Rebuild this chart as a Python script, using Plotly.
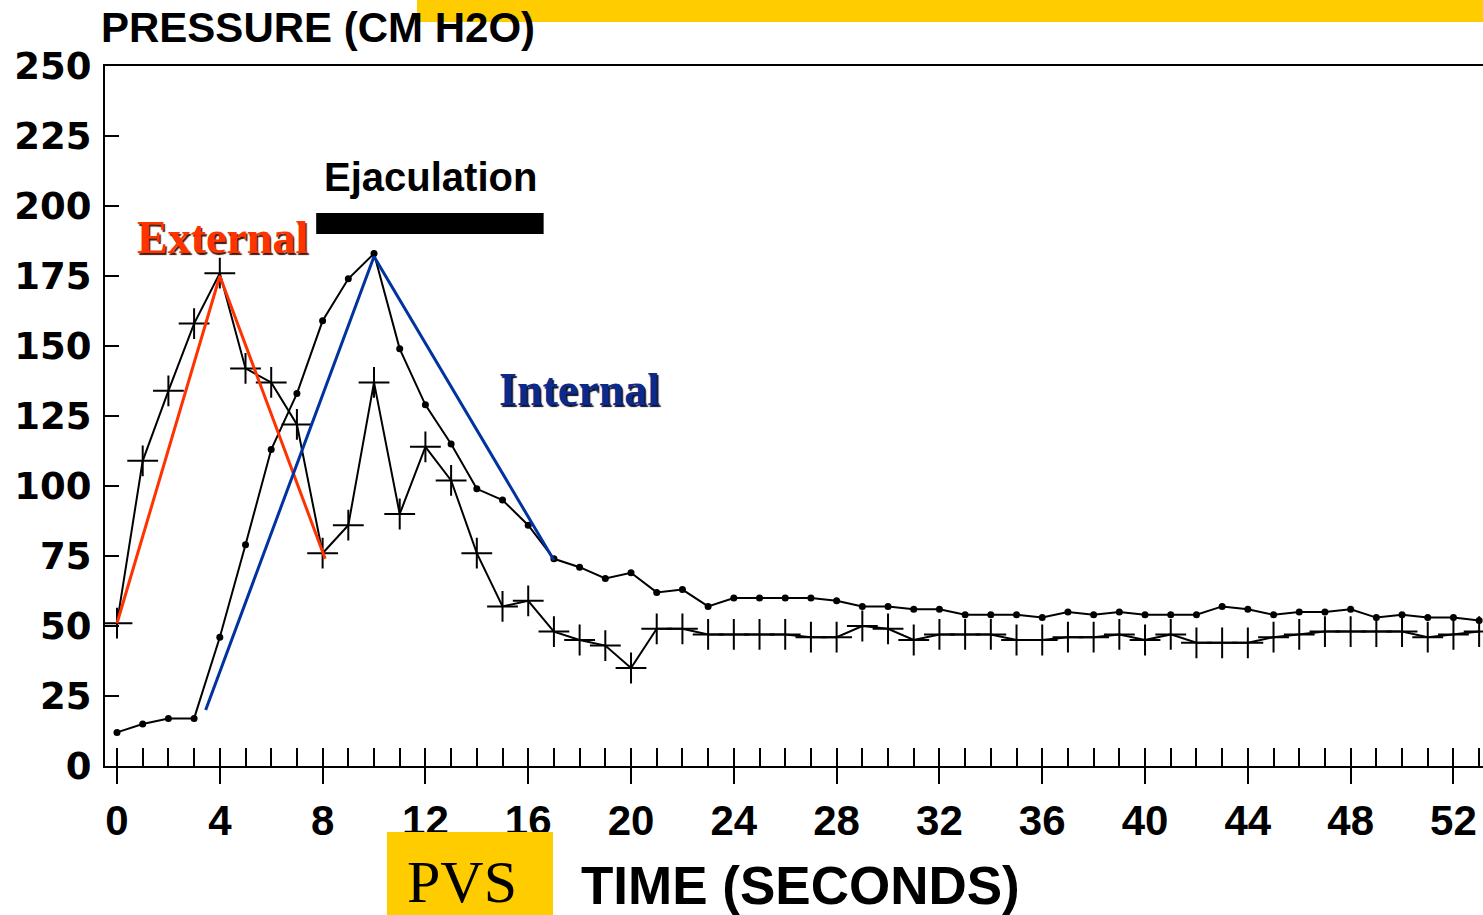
import plotly.graph_objects as go

# ---------------- data ----------------
time_s = list(range(0, 54))

# external sphincter pressure (plus markers)
external_p = [51, 109, 134, 158, 176, 142, 137, 122, 76, 86,
              137, 90, 114, 102, 76, 57, 59, 48, 45, 43,
              35, 49, 49, 47, 47, 47, 47, 46, 46, 50,
              49, 45, 47, 47, 47, 45, 45, 46, 46, 47,
              45, 47, 44, 44, 44, 46, 47, 48, 48, 48,
              48, 46, 47, 48]

# internal sphincter pressure (dot markers)
internal_p = [12, 15, 17, 17, 46, 79, 113, 133, 159, 174,
              183, 149, 129, 115, 99, 95, 86, 74, 71, 67,
              69, 62, 63, 57, 60, 60, 60, 60, 59, 57,
              57, 56, 56, 54, 54, 54, 53, 55, 54, 55,
              54, 54, 54, 57, 56, 54, 55, 55, 56, 53,
              54, 53, 53, 52]

# hand-drawn trend lines
external_trend_t = [0, 4, 8.1]
external_trend_p = [51, 175, 74]
internal_trend_t = [3.45, 10, 17]
internal_trend_p = [20, 182, 73.5]

# ejaculation period
ejac_start, ejac_end = 7.75, 16.6
ejac_low, ejac_high = 190, 197.5

x_tickvals = list(range(0, 53, 4))
y_tickvals = list(range(0, 251, 25))

fig = go.Figure()

fig.add_trace(go.Scatter(
    x=time_s, y=external_p, mode="lines+markers",
    line=dict(color="black", width=2),
    marker=dict(symbol="cross-thin", size=22, line=dict(color="black", width=2)),
    showlegend=False, hoverinfo="skip"))

fig.add_trace(go.Scatter(
    x=time_s, y=internal_p, mode="lines+markers",
    line=dict(color="black", width=2),
    marker=dict(symbol="circle", size=7, color="black"),
    showlegend=False, hoverinfo="skip"))

fig.add_trace(go.Scatter(
    x=external_trend_t, y=external_trend_p, mode="lines",
    line=dict(color="#FF3300", width=3),
    showlegend=False, hoverinfo="skip"))

fig.add_trace(go.Scatter(
    x=internal_trend_t, y=internal_trend_p, mode="lines",
    line=dict(color="#0033A0", width=3),
    showlegend=False, hoverinfo="skip"))

# ejaculation bar
fig.add_shape(type="rect", xref="x", yref="y",
              x0=ejac_start, x1=ejac_end, y0=ejac_low, y1=ejac_high,
              fillcolor="black", line=dict(width=0))

# yellow boxes
fig.add_shape(type="rect", xref="paper", yref="paper",
              x0=0.2046, x1=0.3251, y0=-0.215, y1=-0.0943,
              fillcolor="#FFCC00", line=dict(width=0), layer="above")
fig.add_shape(type="rect", xref="paper", yref="paper",
              x0=0.2264, x1=1.0, y0=1.0629, y1=1.1,
              fillcolor="#FFCC00", line=dict(width=0), layer="above")

ann = []
ann.append(dict(text="PRESSURE (CM H2O)", xref="paper", yref="paper",
                x=-0.004, y=1.0557, xanchor="left", yanchor="middle", showarrow=False,
                font=dict(family="Liberation Sans", size=42, color="black", weight="bold")))
ann.append(dict(text="TIME (SECONDS)", xref="paper", yref="paper",
                x=0.5044, y=-0.17, xanchor="center", yanchor="middle", showarrow=False,
                font=dict(family="Liberation Sans", size=53, color="black", weight="bold")))
ann.append(dict(text="PVS", xref="paper", yref="paper",
                x=0.2591, y=-0.165, xanchor="center", yanchor="middle", showarrow=False,
                font=dict(family="Liberation Serif", size=60, color="black")))
ann.append(dict(text="Ejaculation", xref="x", yref="y",
                x=12.18, y=210.4, xanchor="center", yanchor="middle", showarrow=False,
                font=dict(family="Liberation Sans", size=40, color="black", weight="bold")))
ann.append(dict(text="External", xref="x", yref="y",
                x=4.1, y=188.6, xanchor="center", yanchor="middle", showarrow=False,
                font=dict(family="Liberation Serif", size=46, color="#FF3300", weight="bold",
                          shadow="1.5px 1.5px 1px #3a1a10")))
ann.append(dict(text="Internal", xref="x", yref="y",
                x=17.98, y=134.6, xanchor="center", yanchor="middle", showarrow=False,
                font=dict(family="Liberation Serif", size=46, color="#0A2A8C", weight="bold",
                          shadow="1.5px 1.5px 1px #101030")))

fig.update_layout(
    width=1483, height=915,
    margin=dict(l=105, r=0, t=66, b=149),
    paper_bgcolor="white", plot_bgcolor="white",
    annotations=ann,
    xaxis=dict(range=[-0.467, 53.15], tickvals=x_tickvals,
               ticks="outside", ticklen=16, tickwidth=2, tickcolor="black",
               showline=True, linecolor="black", linewidth=2, mirror=True,
               showgrid=False, zeroline=False,
               ticklabelstandoff=1,
               tickfont=dict(family="Liberation Sans", size=42, color="black", weight="bold"),
               minor=dict(dtick=1, tick0=0, ticks="inside", ticklen=18, tickwidth=1.5,
                          tickcolor="black", showgrid=False)),
    xaxis2=dict(range=[-0.467, 53.15], overlaying="x", anchor="y", side="bottom",
                tickvals=x_tickvals, ticks="inside", ticklen=18, tickwidth=2,
                tickcolor="black", showticklabels=False, showline=False,
                showgrid=False, zeroline=False),
    yaxis=dict(range=[0, 250], tickvals=y_tickvals,
               ticks="inside", ticklen=14, tickwidth=1.5, tickcolor="black",
               showline=True, linecolor="black", linewidth=2,
               showgrid=False, zeroline=False,
               ticklabelstandoff=4,
               tickfont=dict(family="DejaVu Sans", size=37, color="black", weight="bold")),
)

fig.write_html("out.html")
